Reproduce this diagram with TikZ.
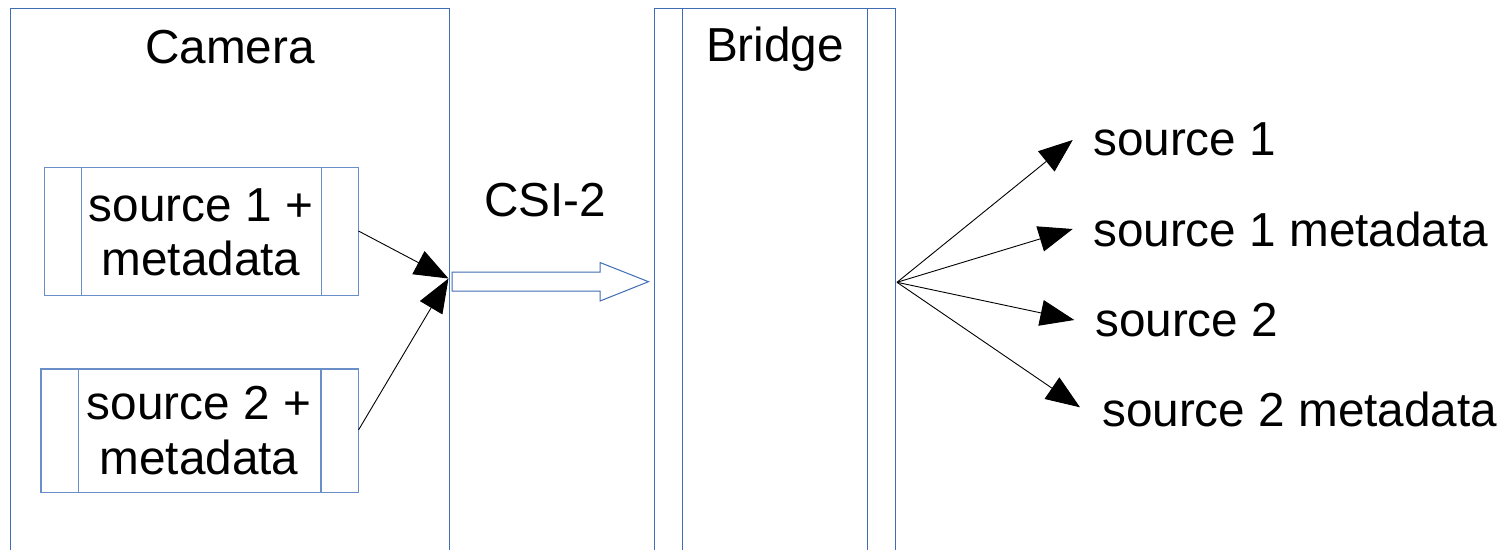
\documentclass[tikz,border=0pt]{standalone}
\usepackage{fontspec}
\setmainfont{Liberation Sans}
\usetikzlibrary{arrows.meta}
\definecolor{frameblue}{HTML}{3F6DB3}
\definecolor{lightblue}{HTML}{6A8FC8}
\tikzset{
  frame/.style={draw=frameblue, line width=1pt},
  srcframe/.style={draw=lightblue, line width=1.2pt},
  lbl/.style={inner sep=0pt, font=\fontsize{47.7}{57}\selectfont, text=black},
  conn/.style={draw=black, line width=0.9pt, -{Triangle[length=34pt,width=26pt]}},
}
\begin{document}
\begin{tikzpicture}[x=1pt,y=-1pt]
\useasboundingbox[fill=white] (0,0) rectangle (1505,550);
% Camera frame (open at bottom)
\draw[frame] (10.5,550) -- (10.5,8) -- (449,8) -- (449,550);
\node[lbl, anchor=base] (camera) at (230,63) {Camera};
% Source boxes
\draw[srcframe] (44.5,167.5) rectangle (358.5,295.5);
\draw[srcframe] (81.5,167.5) -- (81.5,295.5);
\draw[srcframe] (321.5,167.5) -- (321.5,295.5);
\coordinate (s1out) at (358.5,231);
\node[lbl, anchor=base] (s1a) at (201,221) {source 1 +};
\node[lbl, anchor=base] (s1b) at (201,275) {metadata};
\draw[srcframe] (41,369) rectangle (358.5,492.5);
\draw[srcframe] (78.5,369) -- (78.5,492.5);
\draw[srcframe] (321,369) -- (321,492.5);
\coordinate (s2out) at (358.5,430);
\node[lbl, anchor=base] (s2a) at (199,419.5) {source 2 +};
\node[lbl, anchor=base] (s2b) at (199,474.5) {metadata};
% merge point
\coordinate (merge) at (448.5,278.5);
\draw[conn] (s1out) -- (merge);
\draw[conn] (s2out) -- (merge);
% CSI-2 block arrow
\draw[frame, fill=white] (452,272) -- (600,272) -- (600,262.5) -- (648.5,281.7) -- (600,301) -- (600,291) -- (452,291) -- cycle;
\node[lbl, anchor=base] (csi) at (545,216.7) {CSI-2};
% Bridge
\draw[frame] (654.5,550) -- (654.5,8) -- (895,8) -- (895,550);
\draw[frame] (682,8) -- (682,550);
\draw[frame] (867,8) -- (867,550);
\node[lbl, anchor=base] (bridge) at (775,61) {Bridge};
% Fan out
\coordinate (fan) at (897,282.3);
\coordinate (t1) at (1072.7,140);
\coordinate (t2) at (1072.7,229);
\coordinate (t3) at (1074.3,320);
\coordinate (t4) at (1080,407.3);
\draw[conn] (fan) -- (t1);
\draw[conn] (fan) -- (t2);
\draw[conn] (fan) -- (t3);
\draw[conn] (fan) -- (t4);
\node[lbl, anchor=base west] (o1) at (1093,155.7) {source 1};
\node[lbl, anchor=base west] (o2) at (1093,246.7) {source 1 metadata};
\node[lbl, anchor=base west] (o3) at (1095,336.7) {source 2};
\node[lbl, anchor=base west] (o4) at (1102,426) {source 2 metadata};
\end{tikzpicture}
\end{document}
